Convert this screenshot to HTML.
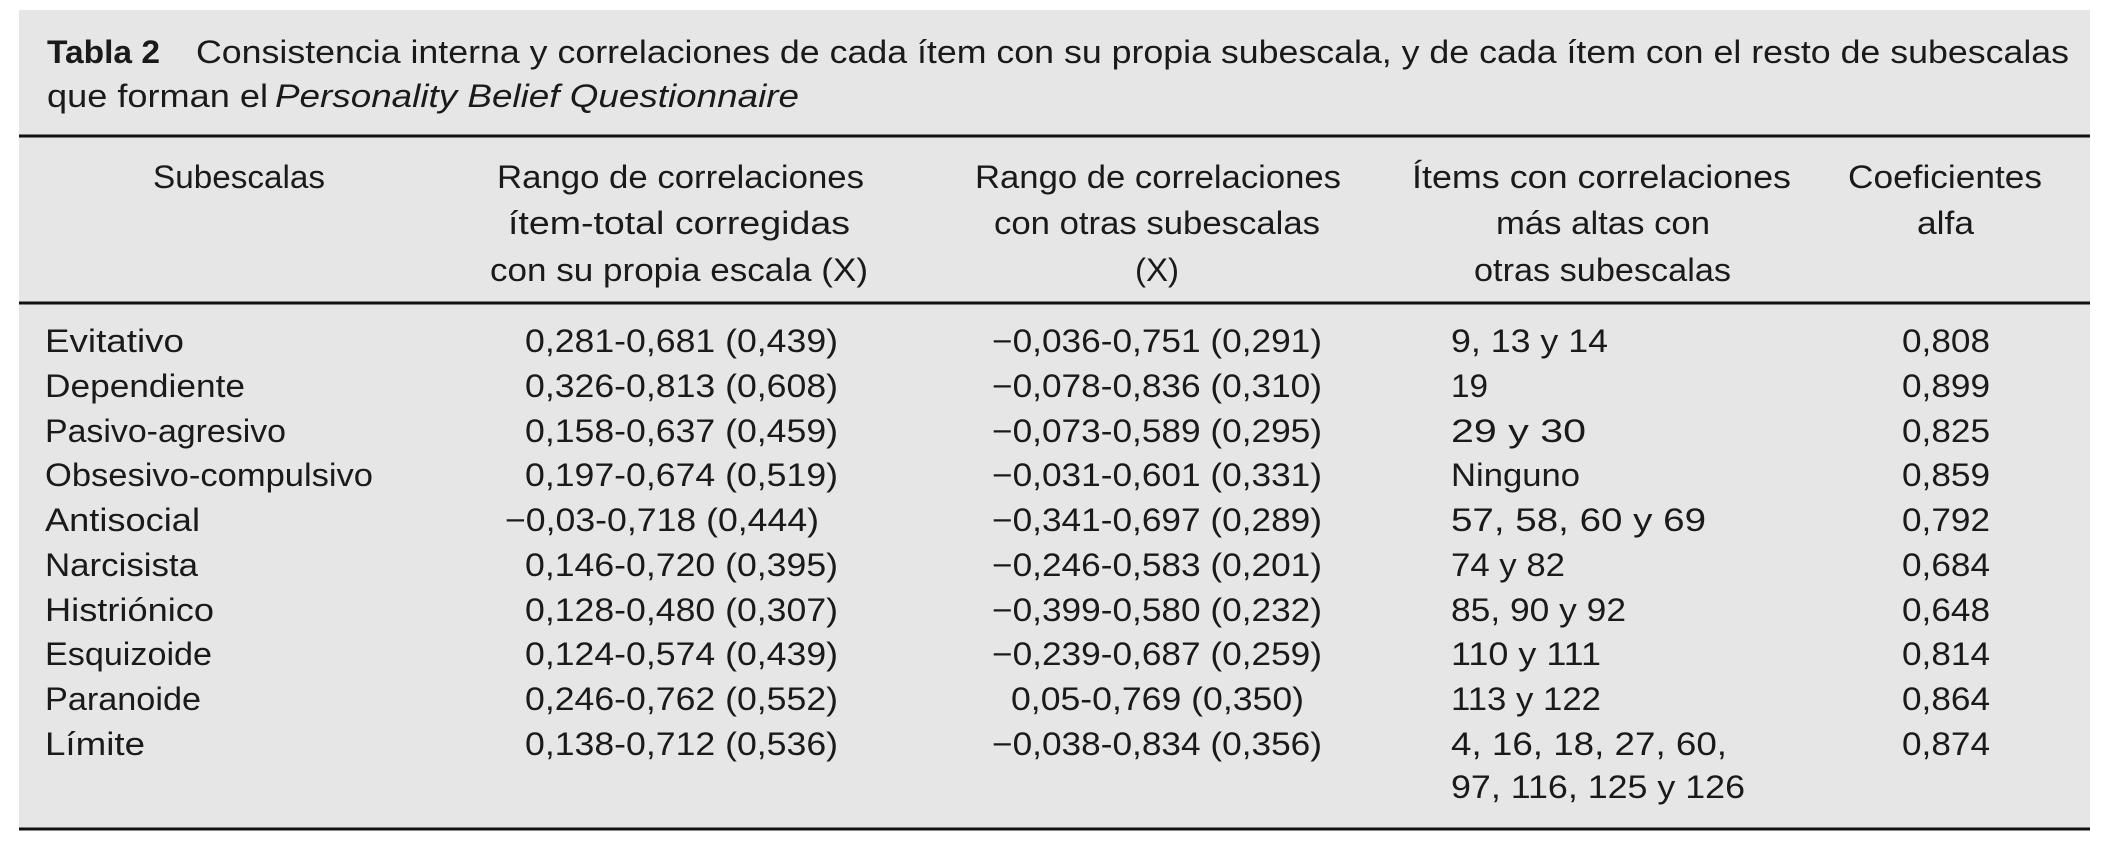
<!DOCTYPE html>
<html><head><meta charset="utf-8"><style>
html,body{margin:0;padding:0;background:#fff;width:2112px;height:862px;overflow:hidden}
svg text{font-family:"Liberation Sans",sans-serif;font-size:32px;fill:#1a1a1a}
</style></head><body>
<svg width="2112" height="862">
<rect x="19" y="10" width="2071" height="819" fill="#e6e6e6"/>
<g>
<text x="47" y="63" font-weight="bold" textLength="113" lengthAdjust="spacingAndGlyphs">Tabla 2</text>
<text x="196" y="63" textLength="1873" lengthAdjust="spacingAndGlyphs">Consistencia interna y correlaciones de cada ítem con su propia subescala, y de cada ítem con el resto de subescalas</text>
<text x="47" y="107" textLength="221" lengthAdjust="spacingAndGlyphs">que forman el</text>
<text x="275" y="107" font-style="italic" textLength="524" lengthAdjust="spacingAndGlyphs">Personality Belief Questionnaire</text>
</g>
<line x1="19" y1="136" x2="2090" y2="136" stroke="#111" stroke-width="3"/>
<line x1="19" y1="303" x2="2090" y2="303" stroke="#111" stroke-width="3"/>
<line x1="19" y1="829" x2="2090" y2="829" stroke="#111" stroke-width="3"/>
<g>
<text x="153" y="188" textLength="172" lengthAdjust="spacingAndGlyphs">Subescalas</text>
<text x="497" y="188" textLength="367" lengthAdjust="spacingAndGlyphs">Rango de correlaciones</text>
<text x="508" y="234" textLength="342" lengthAdjust="spacingAndGlyphs">ítem-total corregidas</text>
<text x="490" y="281" textLength="378" lengthAdjust="spacingAndGlyphs">con su propia escala (X)</text>
<text x="975" y="188" textLength="366" lengthAdjust="spacingAndGlyphs">Rango de correlaciones</text>
<text x="994" y="234" textLength="326" lengthAdjust="spacingAndGlyphs">con otras subescalas</text>
<text x="1135" y="281" textLength="44" lengthAdjust="spacingAndGlyphs">(X)</text>
<text x="1412" y="188" textLength="379" lengthAdjust="spacingAndGlyphs">Ítems con correlaciones</text>
<text x="1496" y="234" textLength="214" lengthAdjust="spacingAndGlyphs">más altas con</text>
<text x="1474" y="281" textLength="257" lengthAdjust="spacingAndGlyphs">otras subescalas</text>
<text x="1848" y="188" textLength="194" lengthAdjust="spacingAndGlyphs">Coeficientes</text>
<text x="1917" y="234" textLength="57" lengthAdjust="spacingAndGlyphs">alfa</text>
</g>
<g>
<text x="45" y="352" textLength="139" lengthAdjust="spacingAndGlyphs">Evitativo</text>
<text x="525" y="352" textLength="313" lengthAdjust="spacingAndGlyphs">0,281-0,681 (0,439)</text>
<text x="992" y="352" textLength="330" lengthAdjust="spacingAndGlyphs">−0,036-0,751 (0,291)</text>
<text x="1451" y="352" textLength="157" lengthAdjust="spacingAndGlyphs">9, 13 y 14</text>
<text x="1902" y="352" textLength="88" lengthAdjust="spacingAndGlyphs">0,808</text>

<text x="45" y="397" textLength="200" lengthAdjust="spacingAndGlyphs">Dependiente</text>
<text x="525" y="397" textLength="313" lengthAdjust="spacingAndGlyphs">0,326-0,813 (0,608)</text>
<text x="992" y="397" textLength="330" lengthAdjust="spacingAndGlyphs">−0,078-0,836 (0,310)</text>
<text x="1451" y="397" textLength="37" lengthAdjust="spacingAndGlyphs">19</text>
<text x="1902" y="397" textLength="88" lengthAdjust="spacingAndGlyphs">0,899</text>

<text x="45" y="442" textLength="241" lengthAdjust="spacingAndGlyphs">Pasivo-agresivo</text>
<text x="525" y="442" textLength="313" lengthAdjust="spacingAndGlyphs">0,158-0,637 (0,459)</text>
<text x="992" y="442" textLength="330" lengthAdjust="spacingAndGlyphs">−0,073-0,589 (0,295)</text>
<text x="1451" y="442" textLength="135" lengthAdjust="spacingAndGlyphs">29 y 30</text>
<text x="1902" y="442" textLength="88" lengthAdjust="spacingAndGlyphs">0,825</text>

<text x="45" y="486" textLength="328" lengthAdjust="spacingAndGlyphs">Obsesivo-compulsivo</text>
<text x="525" y="486" textLength="313" lengthAdjust="spacingAndGlyphs">0,197-0,674 (0,519)</text>
<text x="992" y="486" textLength="330" lengthAdjust="spacingAndGlyphs">−0,031-0,601 (0,331)</text>
<text x="1451" y="486" textLength="129" lengthAdjust="spacingAndGlyphs">Ninguno</text>
<text x="1902" y="486" textLength="88" lengthAdjust="spacingAndGlyphs">0,859</text>

<text x="45" y="531" textLength="155" lengthAdjust="spacingAndGlyphs">Antisocial</text>
<text x="505" y="531" textLength="314" lengthAdjust="spacingAndGlyphs">−0,03-0,718 (0,444)</text>
<text x="992" y="531" textLength="330" lengthAdjust="spacingAndGlyphs">−0,341-0,697 (0,289)</text>
<text x="1451" y="531" textLength="255" lengthAdjust="spacingAndGlyphs">57, 58, 60 y 69</text>
<text x="1902" y="531" textLength="88" lengthAdjust="spacingAndGlyphs">0,792</text>

<text x="45" y="576" textLength="153" lengthAdjust="spacingAndGlyphs">Narcisista</text>
<text x="525" y="576" textLength="313" lengthAdjust="spacingAndGlyphs">0,146-0,720 (0,395)</text>
<text x="992" y="576" textLength="330" lengthAdjust="spacingAndGlyphs">−0,246-0,583 (0,201)</text>
<text x="1451" y="576" textLength="114" lengthAdjust="spacingAndGlyphs">74 y 82</text>
<text x="1902" y="576" textLength="88" lengthAdjust="spacingAndGlyphs">0,684</text>

<text x="45" y="621" textLength="169" lengthAdjust="spacingAndGlyphs">Histriónico</text>
<text x="525" y="621" textLength="313" lengthAdjust="spacingAndGlyphs">0,128-0,480 (0,307)</text>
<text x="992" y="621" textLength="330" lengthAdjust="spacingAndGlyphs">−0,399-0,580 (0,232)</text>
<text x="1451" y="621" textLength="175" lengthAdjust="spacingAndGlyphs">85, 90 y 92</text>
<text x="1902" y="621" textLength="88" lengthAdjust="spacingAndGlyphs">0,648</text>

<text x="45" y="665" textLength="167" lengthAdjust="spacingAndGlyphs">Esquizoide</text>
<text x="525" y="665" textLength="313" lengthAdjust="spacingAndGlyphs">0,124-0,574 (0,439)</text>
<text x="992" y="665" textLength="330" lengthAdjust="spacingAndGlyphs">−0,239-0,687 (0,259)</text>
<text x="1451" y="665" textLength="150" lengthAdjust="spacingAndGlyphs">110 y 111</text>
<text x="1902" y="665" textLength="88" lengthAdjust="spacingAndGlyphs">0,814</text>

<text x="45" y="710" textLength="156" lengthAdjust="spacingAndGlyphs">Paranoide</text>
<text x="525" y="710" textLength="313" lengthAdjust="spacingAndGlyphs">0,246-0,762 (0,552)</text>
<text x="1011" y="710" textLength="293" lengthAdjust="spacingAndGlyphs">0,05-0,769 (0,350)</text>
<text x="1451" y="710" textLength="150" lengthAdjust="spacingAndGlyphs">113 y 122</text>
<text x="1902" y="710" textLength="88" lengthAdjust="spacingAndGlyphs">0,864</text>

<text x="45" y="755" textLength="100" lengthAdjust="spacingAndGlyphs">Límite</text>
<text x="525" y="755" textLength="313" lengthAdjust="spacingAndGlyphs">0,138-0,712 (0,536)</text>
<text x="992" y="755" textLength="330" lengthAdjust="spacingAndGlyphs">−0,038-0,834 (0,356)</text>
<text x="1451" y="755" textLength="276" lengthAdjust="spacingAndGlyphs">4, 16, 18, 27, 60,</text>
<text x="1451" y="798" textLength="294" lengthAdjust="spacingAndGlyphs">97, 116, 125 y 126</text>
<text x="1902" y="755" textLength="88" lengthAdjust="spacingAndGlyphs">0,874</text>
</g>
</svg>
</body></html>
